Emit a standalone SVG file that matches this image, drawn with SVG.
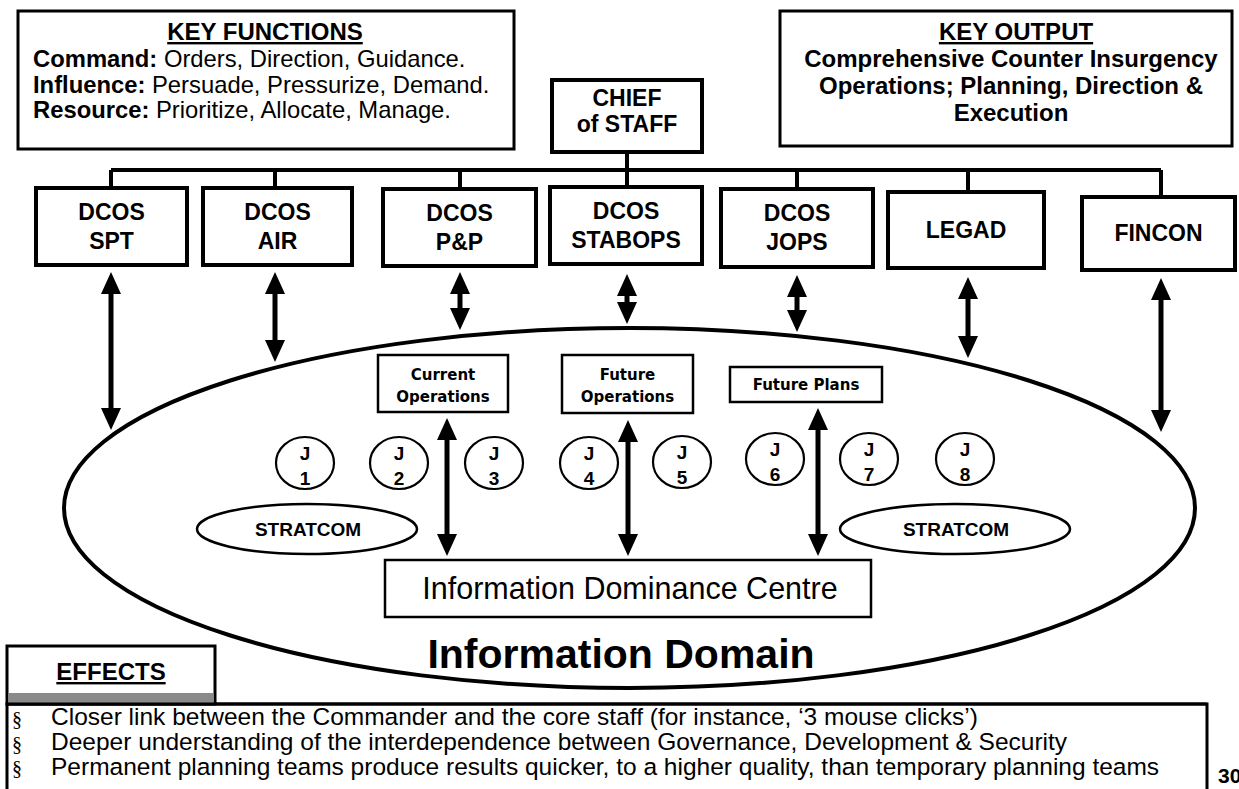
<svg xmlns="http://www.w3.org/2000/svg" width="1239" height="789" viewBox="0 0 1239 789">
  <defs>
    <style>
      .box { fill: #fff; stroke: #000; stroke-width: 3; }
      .dbox { fill: #fff; stroke: #000; stroke-width: 4; }
      .ibox { fill: #fff; stroke: #000; stroke-width: 2.5; }
      .jc { fill: #fff; stroke: #000; stroke-width: 2.2; }
      .sans { font-family: "Liberation Sans", Arial, sans-serif; fill: #000; }
      .b { font-weight: bold; }
      .hd { font-family: "Liberation Sans", Arial, sans-serif; font-weight: bold; font-size: 24px; text-anchor: middle; text-decoration: underline; }
      .kf { font-family: "Liberation Sans", Arial, sans-serif; font-size: 23.8px; }
      .ko { font-family: "Liberation Sans", Arial, sans-serif; font-weight: bold; font-size: 24px; text-anchor: middle; }
      .dc { font-family: "Liberation Sans", Arial, sans-serif; font-weight: bold; font-size: 23px; text-anchor: middle; }
      .op { font-family: "DejaVu Sans", Verdana, sans-serif; font-weight: bold; font-size: 15px; text-anchor: middle; }
      .jt { font-family: "Liberation Sans", Arial, sans-serif; font-weight: bold; font-size: 19px; text-anchor: middle; }
      .sc { font-family: "Liberation Sans", Arial, sans-serif; font-weight: bold; font-size: 19px; text-anchor: middle; }
      .ef { font-family: "Liberation Sans", Arial, sans-serif; font-size: 24.5px; }
      .sec { font-family: "Liberation Serif", "Times New Roman", serif; font-size: 20px; }
      .bus { fill: none; stroke: #000; stroke-width: 4; }
      .arr { stroke: #000; stroke-width: 5; marker-start: url(#ah); marker-end: url(#ah); }
    </style>
    <marker id="ah" viewBox="0 0 22 20" refX="2" refY="10" markerWidth="22" markerHeight="20" markerUnits="userSpaceOnUse" orient="auto-start-reverse">
      <path d="M0,0 L22,10 L0,20 Z" fill="#000"/>
    </marker>
  </defs>

  <rect width="1239" height="789" fill="#fff"/>

  <!-- Information domain ellipse -->
  <g id="information-domain">
    <ellipse cx="629.5" cy="508" rx="565.5" ry="180" fill="#fff" stroke="#000" stroke-width="4"/>
    <text x="621" y="668" class="sans b" font-size="41" text-anchor="middle">Information Domain</text>
  </g>

  <!-- Key functions panel -->
  <g id="key-functions">
    <rect x="18" y="11" width="496" height="138" class="box"/>
    <text x="265" y="40" class="hd">KEY FUNCTIONS</text>
    <text x="33" y="67" class="kf"><tspan font-weight="bold">Command:</tspan> Orders, Direction, Guidance.</text>
    <text x="33" y="93" class="kf"><tspan font-weight="bold">Influence:</tspan> Persuade, Pressurize, Demand.</text>
    <text x="33" y="118" class="kf"><tspan font-weight="bold">Resource:</tspan> Prioritize, Allocate, Manage.</text>
  </g>

  <!-- Key output panel -->
  <g id="key-output">
    <rect x="780" y="11" width="452" height="135" class="box"/>
    <text x="1016" y="40" class="hd">KEY OUTPUT</text>
    <text x="1011" y="67" class="ko">Comprehensive Counter Insurgency</text>
    <text x="1011" y="94" class="ko">Operations; Planning, Direction &amp;</text>
    <text x="1011" y="121" class="ko">Execution</text>
  </g>

  <!-- Chief of Staff -->
  <g id="chief-of-staff">
    <rect x="552" y="80" width="150" height="72" class="dbox"/>
    <text x="627" y="106" class="dc">CHIEF</text>
    <text x="627" y="132" class="dc">of STAFF</text>
  </g>

  <!-- Staff branches -->
  <g id="dcos-spt">
    <rect x="36" y="188" width="151" height="77" class="dbox"/>
    <text x="111.5" y="220" class="dc">DCOS</text>
    <text x="111.5" y="249" class="dc">SPT</text>
  </g>
  <g id="dcos-air">
    <rect x="203" y="188" width="149" height="77" class="dbox"/>
    <text x="277.5" y="220" class="dc">DCOS</text>
    <text x="277.5" y="249" class="dc">AIR</text>
  </g>
  <g id="dcos-pp">
    <rect x="383" y="189" width="153" height="77" class="dbox"/>
    <text x="459.5" y="221" class="dc">DCOS</text>
    <text x="459.5" y="250" class="dc">P&amp;P</text>
  </g>
  <g id="dcos-stabops">
    <rect x="550" y="187" width="152" height="77" class="dbox"/>
    <text x="626" y="219" class="dc">DCOS</text>
    <text x="626" y="248" class="dc">STABOPS</text>
  </g>
  <g id="dcos-jops">
    <rect x="721" y="189" width="152" height="78" class="dbox"/>
    <text x="797" y="221" class="dc">DCOS</text>
    <text x="797" y="250" class="dc">JOPS</text>
  </g>
  <g id="legad">
    <rect x="888" y="192" width="156" height="76" class="dbox"/>
    <text x="966" y="238" class="dc">LEGAD</text>
  </g>
  <g id="fincon">
    <rect x="1082" y="197" width="153" height="73" class="dbox"/>
    <text x="1158.5" y="241" class="dc">FINCON</text>
  </g>

  <!-- Planning cells -->
  <g id="current-operations">
    <rect x="378" y="355" width="130" height="57" class="ibox"/>
    <text x="443" y="380" class="op">Current</text>
    <text x="443" y="402" class="op">Operations</text>
  </g>
  <g id="future-operations">
    <rect x="562" y="355" width="131" height="58" class="ibox"/>
    <text x="627.5" y="380" class="op">Future</text>
    <text x="627.5" y="402" class="op">Operations</text>
  </g>
  <g id="future-plans">
    <rect x="730" y="367" width="152" height="35" class="ibox"/>
    <text x="806" y="390" class="op">Future Plans</text>
  </g>

  <!-- J staff branches -->
  <g id="j1"><ellipse cx="305" cy="463" rx="29" ry="26" class="jc"/><text x="305" y="460" class="jt">J</text><text x="305" y="485" class="jt">1</text></g>
  <g id="j2"><ellipse cx="399" cy="463" rx="29" ry="26" class="jc"/><text x="399" y="460" class="jt">J</text><text x="399" y="485" class="jt">2</text></g>
  <g id="j3"><ellipse cx="494" cy="463" rx="29" ry="26" class="jc"/><text x="494" y="460" class="jt">J</text><text x="494" y="485" class="jt">3</text></g>
  <g id="j4"><ellipse cx="589" cy="463" rx="29" ry="26" class="jc"/><text x="589" y="460" class="jt">J</text><text x="589" y="485" class="jt">4</text></g>
  <g id="j5"><ellipse cx="682" cy="462" rx="29" ry="26" class="jc"/><text x="682" y="459" class="jt">J</text><text x="682" y="484" class="jt">5</text></g>
  <g id="j6"><ellipse cx="775" cy="459" rx="29" ry="26" class="jc"/><text x="775" y="456" class="jt">J</text><text x="775" y="481" class="jt">6</text></g>
  <g id="j7"><ellipse cx="869" cy="459" rx="29" ry="26" class="jc"/><text x="869" y="456" class="jt">J</text><text x="869" y="481" class="jt">7</text></g>
  <g id="j8"><ellipse cx="965" cy="459" rx="29" ry="26" class="jc"/><text x="965" y="456" class="jt">J</text><text x="965" y="481" class="jt">8</text></g>

  <!-- Strategic communications -->
  <g id="stratcom-left">
    <ellipse cx="307" cy="529" rx="110" ry="25" fill="#fff" stroke="#000" stroke-width="2.5"/>
    <text x="308" y="536" class="sc">STRATCOM</text>
  </g>
  <g id="stratcom-right">
    <ellipse cx="955" cy="529" rx="115" ry="25" fill="#fff" stroke="#000" stroke-width="2.5"/>
    <text x="956" y="536" class="sc">STRATCOM</text>
  </g>

  <!-- Information Dominance Centre -->
  <g id="idc">
    <rect x="385" y="560" width="486" height="57" class="ibox"/>
    <text x="630" y="599" class="sans" font-size="30.5" text-anchor="middle">Information Dominance Centre</text>
  </g>

  <!-- Connectors -->
  <g id="connectors">
    <path class="bus" d="M627,152 V170 M111,170 H1161 M111,170 V188 M275,170 V188 M460,170 V189 M627,170 V187 M797,170 V189 M968,170 V192 M1161,170 V197"/>
    <line class="arr" x1="111" y1="292" x2="111" y2="410"/>
    <line class="arr" x1="275" y1="292" x2="275" y2="342"/>
    <line class="arr" x1="460" y1="292" x2="460" y2="310"/>
    <line class="arr" x1="627" y1="294" x2="627" y2="304"/>
    <line class="arr" x1="797" y1="295" x2="797" y2="312"/>
    <line class="arr" x1="968" y1="297" x2="968" y2="338"/>
    <line class="arr" x1="1161" y1="298" x2="1161" y2="412"/>
    <line class="arr" x1="447" y1="438" x2="447" y2="536"/>
    <line class="arr" x1="628" y1="440" x2="628" y2="536"/>
    <line class="arr" x1="818" y1="428" x2="818" y2="536"/>
  </g>

  <!-- Effects panel -->
  <g id="effects">
    <rect x="7" y="704" width="1200" height="100" class="box"/>
    <rect x="7" y="646" width="208" height="58" class="box"/>
    <rect x="8.5" y="693" width="205" height="11" fill="#8a8a8a"/>
    <line x1="7" y1="704" x2="1207" y2="704" stroke="#000" stroke-width="3"/>
    <text x="111" y="680" class="hd" font-size="23">EFFECTS</text>
    <text x="12" y="726" class="sec">§</text>
    <text x="12" y="751" class="sec">§</text>
    <text x="12" y="775" class="sec">§</text>
    <text x="51" y="725" class="ef">Closer link between the Commander and the core staff (for instance, ‘3 mouse clicks’)</text>
    <text x="51" y="750" class="ef">Deeper understanding of the interdependence between Governance, Development &amp; Security</text>
    <text x="51" y="775" class="ef">Permanent planning teams produce results quicker, to a higher quality, than temporary planning teams</text>
  </g>

  <text x="1218" y="783" class="sans b" font-size="21">30</text>
</svg>
